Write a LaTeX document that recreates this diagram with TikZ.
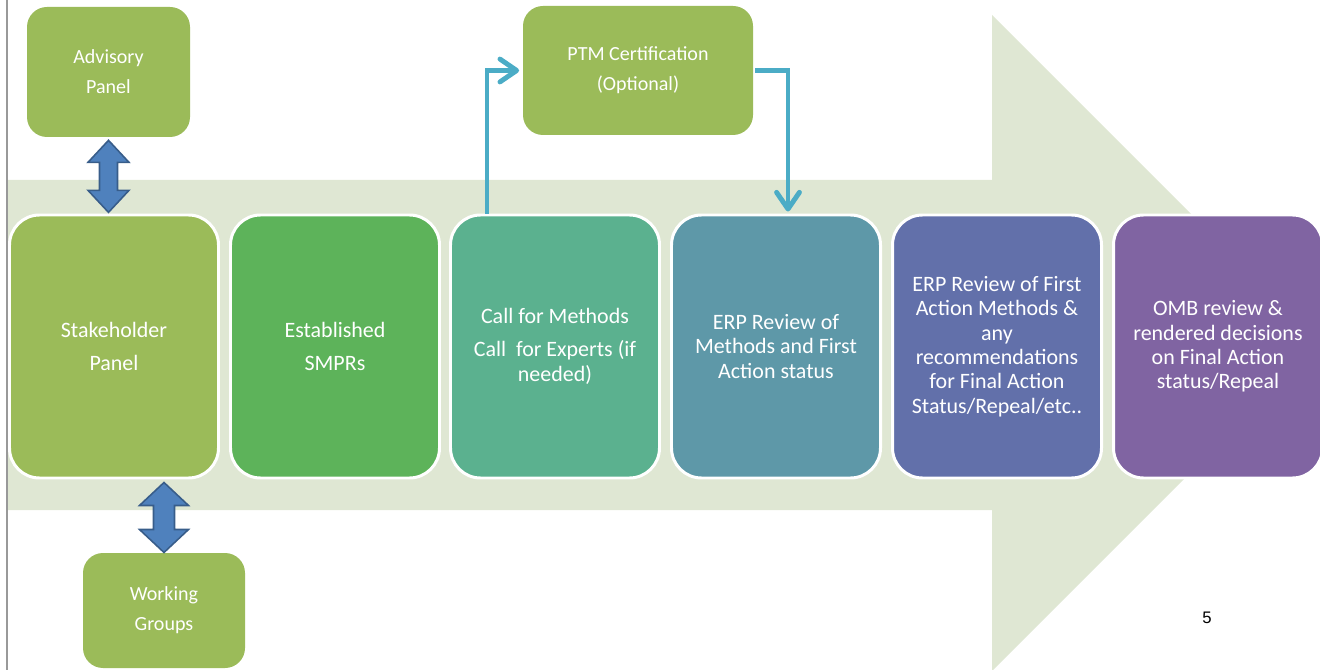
\documentclass[tikz,border=0pt]{standalone}
\usepackage{fontspec}
\setmainfont{Carlito}
\newfontfamily\numfont{Liberation Sans}
\usetikzlibrary{arrows.meta,positioning,calc}
\definecolor{stgOlive}{HTML}{9BBB59}
\definecolor{stgGreen}{HTML}{5DB35A}
\definecolor{stgJade}{HTML}{5BB18F}
\definecolor{stgTeal}{HTML}{5E98A8}
\definecolor{stgIndigo}{HTML}{6270AA}
\definecolor{stgPurple}{HTML}{8064A2}
\definecolor{bandGreen}{HTML}{DFE7D3}
\definecolor{linkBlue}{HTML}{4BACC6}
\definecolor{blkBlue}{HTML}{4F81BD}
\definecolor{blkEdge}{HTML}{385D8A}

\begin{document}
\begin{tikzpicture}[font=\fontsize{12.5}{13.9}\selectfont,
    stage/.style={draw=white,line width=1.7pt,rounded corners=0.6cm,
                  minimum width=4.18cm,minimum height=5.26cm,align=center,
                  text=white,inner sep=2pt},
    side/.style={fill=stgOlive,rounded corners=0.4cm,align=center,text=white,
                 font=\fontsize{11.4}{17}\selectfont},
    flow/.style={draw=linkBlue,line width=2.8pt,
                 -{Straight Barb[length=9.5pt,width=13pt,round]}},
    dblarr/.style={fill=blkBlue,draw=blkEdge,line width=0.9pt,line join=miter}]
  \useasboundingbox (0,0) rectangle (26.4,-13.4);

  % big background arrow and page edge
  \fill[bandGreen] (0.16,-3.6) -- (19.84,-3.6) -- (19.84,-0.3) -- (26.4,-6.86)
    -- (19.84,-13.42) -- (19.84,-10.2) -- (0.16,-10.2) -- cycle;
  \draw[gray!80,line width=0.6pt] (0.14,0) -- (0.14,-13.4);

  % process stages
  \node[stage,fill=stgOlive]  (stake) at (2.28,-6.93)  {Stakeholder\\[4.8pt]Panel};
  \node[stage,fill=stgGreen]  (smpr)  at (6.70,-6.93)  {Established\\[4.8pt]SMPRs};
  \node[stage,fill=stgJade]   (call)  at (11.10,-6.93)
    {Call for Methods\\[4.8pt]Call\ \ for Experts (if\\needed)};
  \node[stage,fill=stgTeal]   (erp)   at (15.52,-6.93)
    {ERP Review of\\Methods and First\\Action status};
  \node[stage,fill=stgIndigo] (erpfa) at (19.94,-6.93)
    {ERP Review of First\\Action Methods \&\\any\\recommendations\\for Final Action\\Status/Repeal/etc..};
  \node[stage,fill=stgPurple] (omb)   at (24.36,-6.93)
    {OMB review \&\\rendered decisions\\on Final Action\\status/Repeal};

  % side panels
  \node[side,minimum width=3.26cm,minimum height=2.6cm] (adv)  at (2.17,-1.44)  {Advisory\\Panel};
  \node[side,minimum width=4.6cm,minimum height=2.58cm] (ptm)  at (12.76,-1.41) {PTM Certification\\(Optional)};
  \node[side,minimum width=3.24cm,minimum height=2.3cm] (work) at (3.28,-12.21) {Working\\Groups};

  % two-way links to the stakeholder panel
  \draw[dblarr] ([yshift=-0.06cm]adv.south) -- ++(0.41,-0.44) -- ++(-0.23,0) -- ++(0,-0.56)
    -- ++(0.23,0) -- ++(-0.41,-0.44) -- ++(-0.41,0.44) -- ++(0.23,0) -- ++(0,0.56)
    -- ++(-0.23,0) -- cycle;
  \draw[dblarr] ([yshift=-0.06cm]work.north |- stake.south) -- ++(0.49,-0.46) -- ++(-0.28,0)
    -- ++(0,-0.48) -- ++(0.28,0) -- ++(-0.49,-0.46) -- ++(-0.49,0.46) -- ++(0.28,0)
    -- ++(0,0.48) -- ++(-0.28,0) -- cycle;

  % optional certification loop
  \draw[flow,shorten >=2pt] ([xshift=0.76cm]call.north west) |- (ptm.west);
  \draw[flow] ([xshift=0.04cm]ptm.east) -| ([xshift=0.24cm,yshift=0.04cm]erp.north);

  \node[font=\numfont\fontsize{9.5}{11}\selectfont] (pagenum) at (24.14,-12.36) {5};
\end{tikzpicture}
\end{document}
